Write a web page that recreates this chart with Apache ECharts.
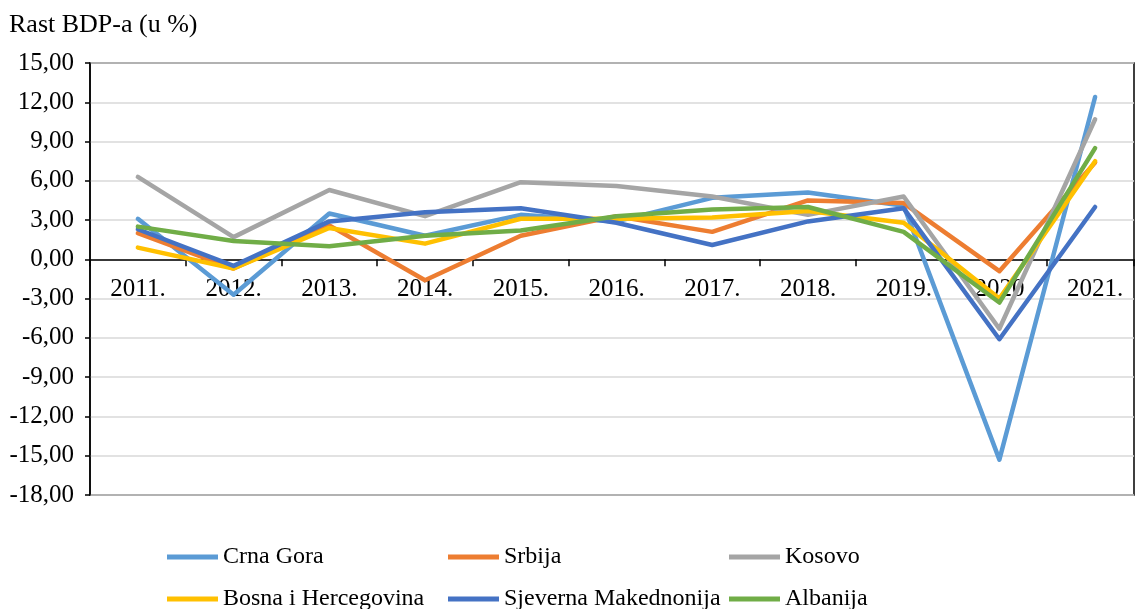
<!DOCTYPE html>
<html><head><meta charset="utf-8">
<script src="https://cdn.jsdelivr.net/npm/echarts@6/dist/echarts.min.js"></script>
<style>html,body{margin:0;padding:0;background:#fff}#c{width:1137px;height:609px}</style>
</head><body><div id="c"></div>
<script>
const years = ['2011.','2012.','2013.','2014.','2015.','2016.','2017.','2018.','2019.','2020','2021.'];
const crnaGora = [3.1,-2.7,3.5,1.8,3.4,2.9,4.7,5.1,4.1,-15.3,12.4];
const srbija = [2.0,-0.7,2.6,-1.6,1.8,3.3,2.1,4.5,4.3,-0.9,7.4];
const kosovo = [6.3,1.7,5.3,3.3,5.9,5.6,4.8,3.4,4.8,-5.3,10.7];
const bosna = [0.9,-0.7,2.4,1.2,3.1,3.1,3.2,3.7,2.8,-3.0,7.5];
const sjMakedonija = [2.3,-0.5,2.9,3.6,3.9,2.8,1.1,2.9,3.9,-6.1,4.0];
const albanija = [2.5,1.4,1.0,1.8,2.2,3.3,3.8,4.0,2.1,-3.3,8.5];
const seriesNames = ['Crna Gora','Srbija','Kosovo','Bosna i Hercegovina','Sjeverna Makednonija','Albanija'];
const seriesData = [crnaGora,srbija,kosovo,bosna,sjMakedonija,albanija];
const colors = ['#5B9BD5','#ED7D31','#A5A5A5','#FFC000','#4472C4','#70AD47'];
const yMin = -18, yMax = 15, yStep = 3;

const FONT = 'Liberation Serif';
const FS = 25;
const gridLeft = 90, gridTop = 63, gridHeight = 432, catWidth = 96;
const xMin = -0.5, xMax = -0.5 + (1137 - gridLeft) / catWidth; // plot is cut at right edge as in reference
const zeroOffset = -(gridHeight * (0 - yMin) / (yMax - yMin));
const legendPos = [[167,545],[448,545],[729,545],[167,587],[448,587],[729,587]];

const chart = echarts.init(document.getElementById('c'));
chart.setOption({
  animation:false,
  color: colors,
  title:{text:'Rast BDP-a (u %)',left:9,top:12,padding:0,
    textStyle:{fontFamily:FONT,fontSize:26,fontWeight:'normal',color:'#000'}},
  grid:{left:gridLeft,right:0,top:gridTop,height:gridHeight,show:true,borderColor:'#000',borderWidth:1.5,containLabel:false},
  legend: seriesNames.map((n,i)=>({
    data:[n],left:legendPos[i][0],top:legendPos[i][1],padding:0,
    icon:'rect',itemWidth:51,itemHeight:5,itemGap:6,
    textStyle:{fontFamily:FONT,fontSize:24,color:'#000'}
  })),
  xAxis:{type:'value',min:xMin,max:xMax,interval:1,
    offset: zeroOffset,
    axisLine:{show:true,onZero:false,lineStyle:{color:'#000',width:1.5}},
    axisTick:{show:true,inside:false,length:7,lineStyle:{color:'#000',width:1.5}},
    axisLabel:{fontFamily:FONT,fontSize:FS,color:'#000',margin:18,align:'center',
      padding:[0,0,0,catWidth],showMinLabel:true,showMaxLabel:true,
      formatter:v=>{const i=Math.round(v+0.5); return (Math.abs(v+0.5-i)<1e-6 && years[i]!==undefined)?years[i]:'';}},
    splitLine:{show:false}},
  yAxis:{type:'value',min:yMin,max:yMax,interval:yStep,
    axisLine:{show:true,onZero:false,lineStyle:{color:'#000',width:1.5}},
    axisTick:{show:true,length:5,lineStyle:{color:'#000',width:1.5}},
    axisLabel:{fontFamily:FONT,fontSize:FS,color:'#000',margin:16,
      formatter:v=>v.toFixed(2).replace('.',',')},
    splitLine:{show:true,lineStyle:{color:'#D9D9D9',width:1.5}}},
  series: seriesNames.map((n,i)=>({
    name:n,type:'line',data:seriesData[i].map((v,j)=>[j,v]),symbol:'none',z:3,
    lineStyle:{width:4.5,color:colors[i],cap:'round',join:'round'},
    itemStyle:{color:colors[i]}
  }))
});
</script></body></html>
